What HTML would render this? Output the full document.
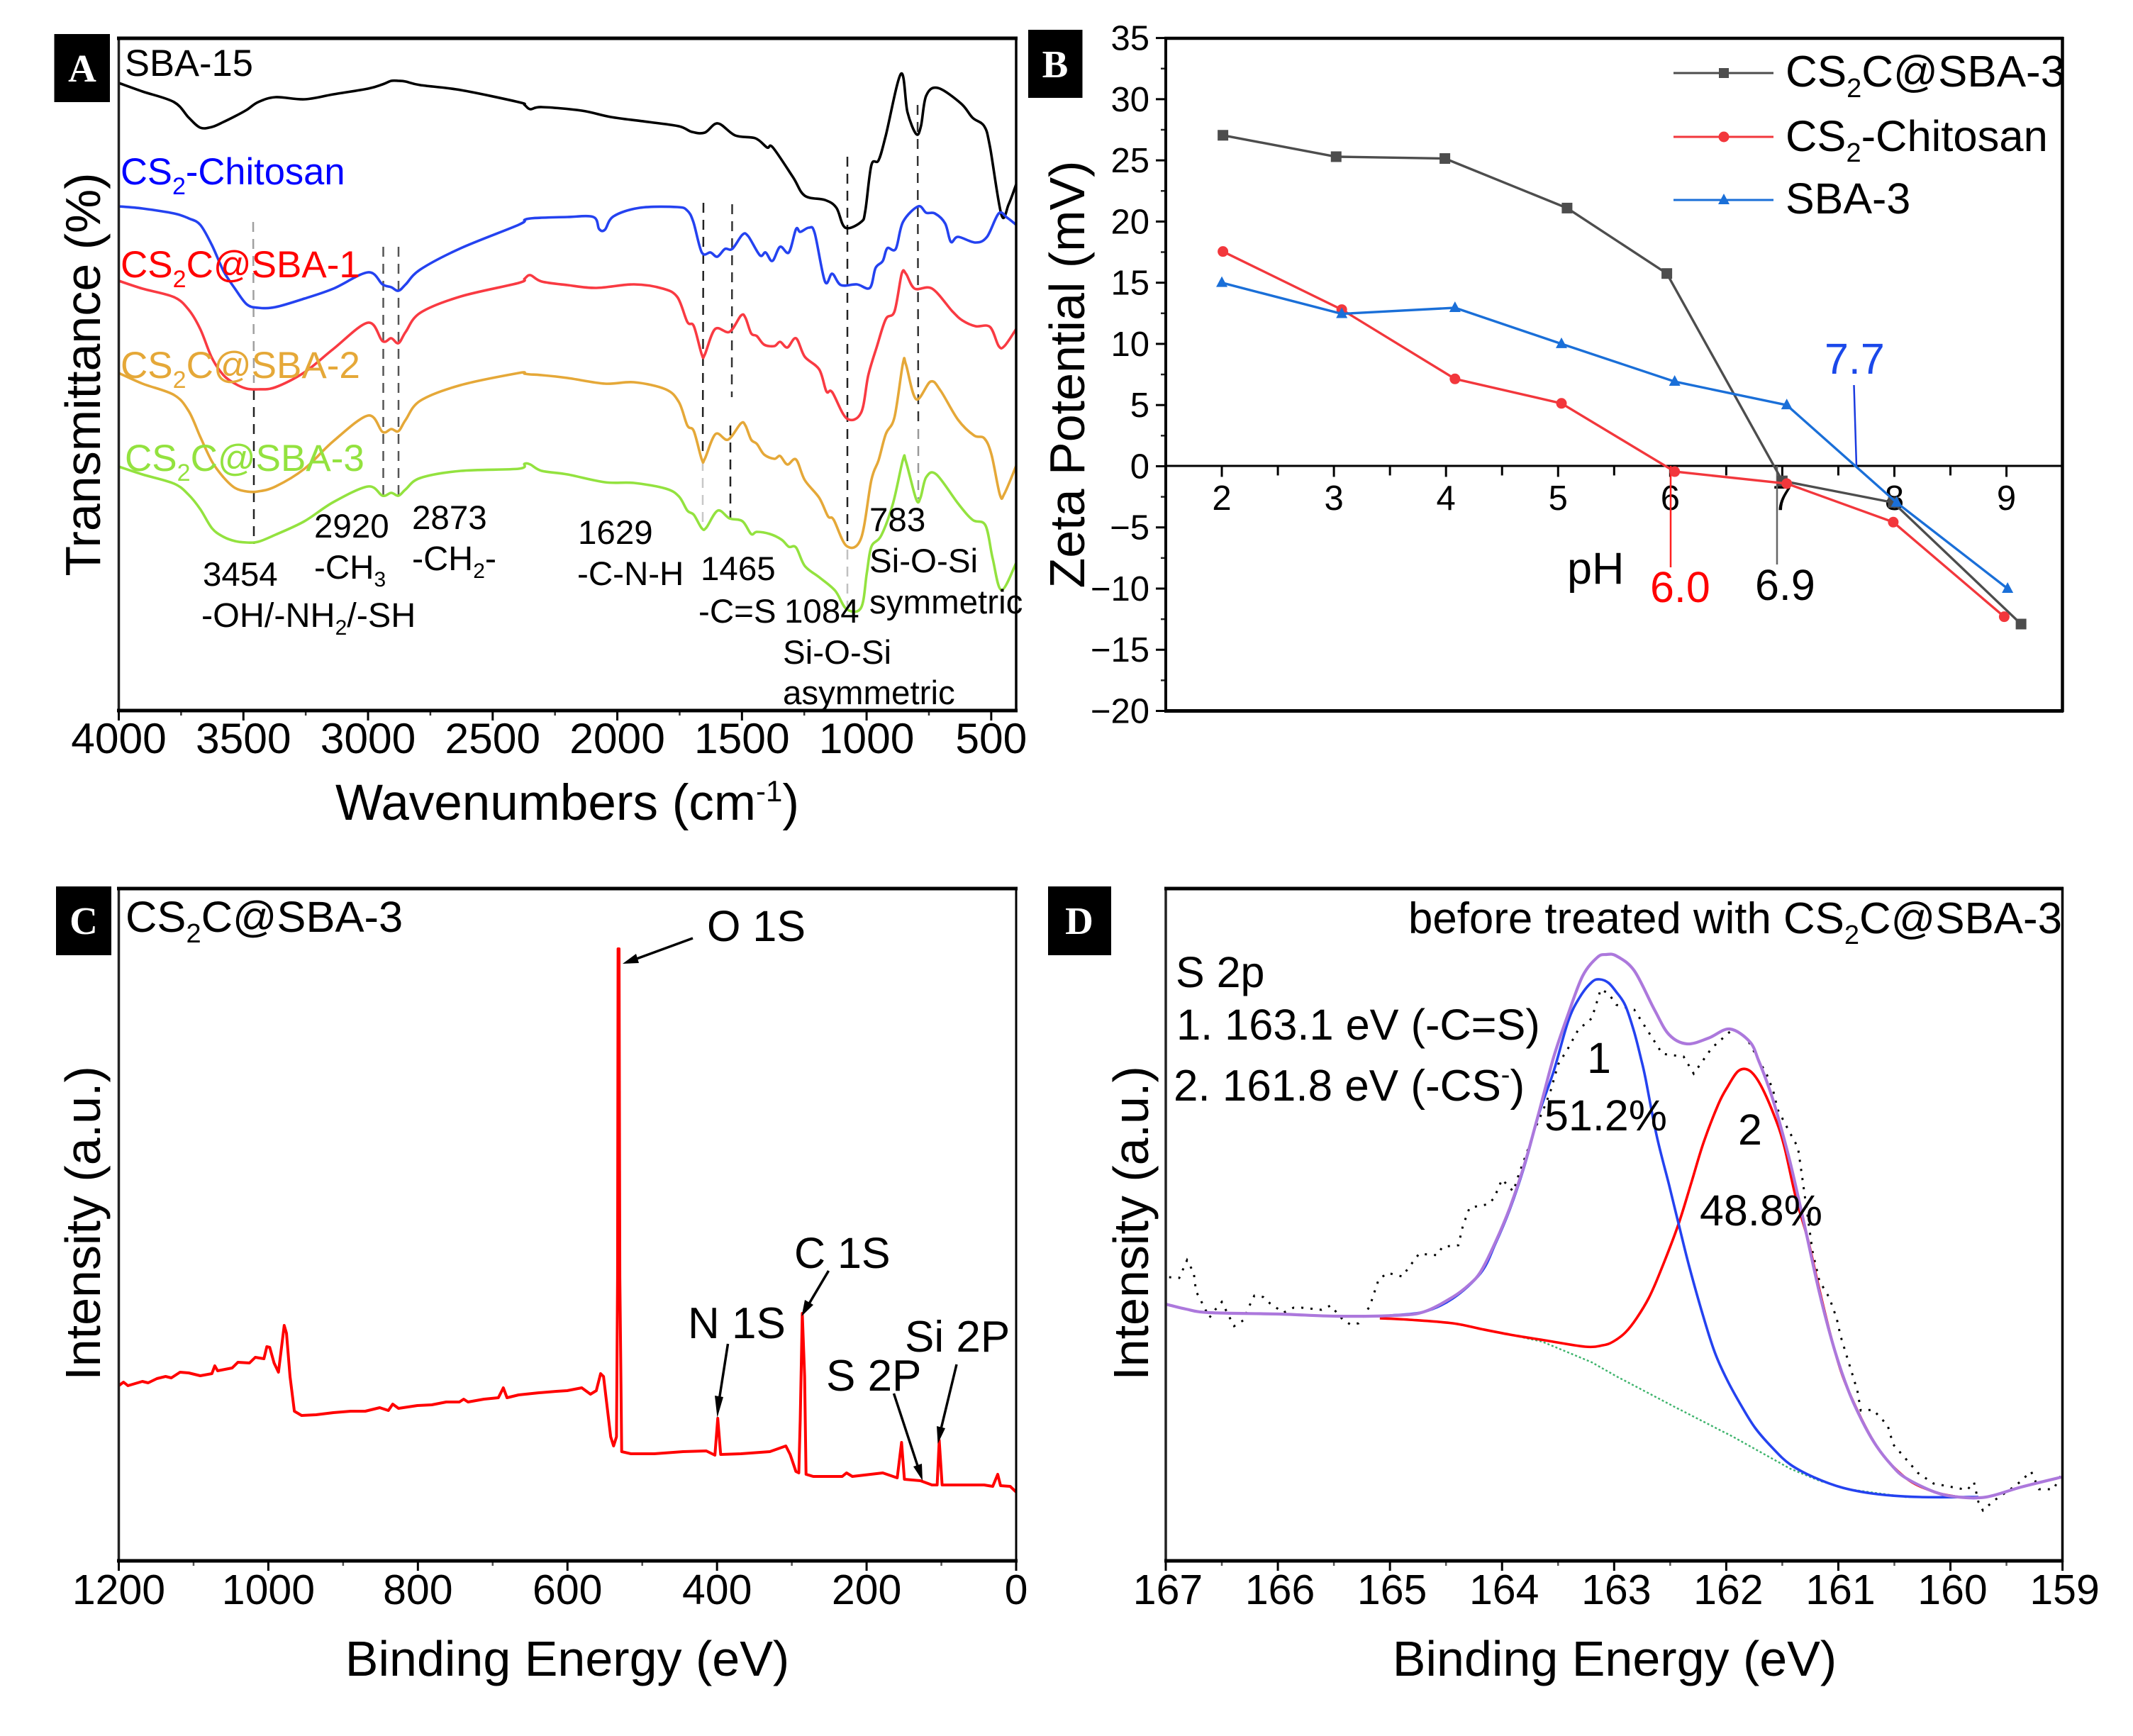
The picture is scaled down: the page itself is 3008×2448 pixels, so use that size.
<!DOCTYPE html>
<html>
<head>
<meta charset="utf-8">
<title>Characterisation panels</title>
<style>
html,body{margin:0;padding:0;background:#fff;}
svg{display:block;font-family:"Liberation Sans",Arial,sans-serif;}
text{fill:#000;}
.letter{font-family:"Liberation Serif",serif;font-weight:bold;font-size:55px;fill:#fff;text-anchor:middle;}
.ann{font-size:47.5px;}
.lab{font-size:53px;}
.big{font-size:61px;}
.axt{font-size:70px;text-anchor:middle;}
</style>
</head>
<body>
<svg id="chart" xmlns="http://www.w3.org/2000/svg" width="3008" height="2448" viewBox="0 0 3008 2448">
<rect x="0" y="0" width="3008" height="2448" fill="#fff"/>

<g id="pa">
  <g fill="none" stroke-width="2.5" stroke-dasharray="14 10">
    <line x1="357" y1="313" x2="358" y2="540" stroke="#a0a0a0"/>
    <line x1="358" y1="550" x2="358" y2="767" stroke="#222"/>
    <line x1="540.5" y1="348" x2="540.5" y2="700" stroke="#555"/>
    <line x1="562" y1="348" x2="562" y2="700" stroke="#555"/>
    <line x1="992" y1="286" x2="991" y2="640" stroke="#222"/>
    <line x1="991" y1="650" x2="991" y2="745" stroke="#c8c8c8"/>
    <line x1="1032.5" y1="288" x2="1032" y2="560" stroke="#333"/>
    <line x1="1030" y1="600" x2="1030" y2="732" stroke="#222"/>
    <line x1="1195" y1="221" x2="1195" y2="770" stroke="#222"/>
    <line x1="1195" y1="775" x2="1195" y2="859" stroke="#c0c0c0"/>
    <line x1="1294" y1="148" x2="1295" y2="600" stroke="#333"/>
    <line x1="1295" y1="605" x2="1295" y2="704" stroke="#999"/>
  </g>
  <g id="pa-series"></g>
  <g id="pa-ticks"></g>
  <line x1="167.5" y1="52" x2="167.5" y2="1004" stroke="#222" stroke-width="3.5"/>
  <line x1="165" y1="54" x2="1435" y2="54" stroke="#000" stroke-width="5"/>
  <line x1="1433" y1="52" x2="1433" y2="1004" stroke="#000" stroke-width="3.5"/>
  <line x1="165" y1="1002" x2="1435" y2="1002" stroke="#000" stroke-width="5"/>

  <text x="176" y="107" font-size="52.5">SBA-15</text>
  <text x="170" y="260" class="lab" style="fill:#0000ff;font-size:52.5px">CS<tspan font-size="34" dy="14" style="fill:#0000ff">2</tspan><tspan dy="-14" style="fill:#0000ff">-Chitosan</tspan></text>
  <text x="170" y="391" class="lab" style="fill:#ff0000">CS<tspan font-size="34" dy="14" style="fill:#ff0000">2</tspan><tspan dy="-14" style="fill:#ff0000">C@SBA-1</tspan></text>
  <text x="170" y="533" class="lab" style="fill:#e5a838">CS<tspan font-size="34" dy="14" style="fill:#e5a838">2</tspan><tspan dy="-14" style="fill:#e5a838">C@SBA-2</tspan></text>
  <text x="176" y="664" class="lab" style="fill:#93e23f">CS<tspan font-size="34" dy="14" style="fill:#93e23f">2</tspan><tspan dy="-14" style="fill:#93e23f">C@SBA-3</tspan></text>

  <text x="286" y="826" class="ann">3454</text>
  <text x="284" y="884" class="ann" style="font-size:48.5px">-OH/-NH<tspan font-size="30" dy="11">2</tspan><tspan dy="-11">/-SH</tspan></text>
  <text x="443" y="758" class="ann">2920</text>
  <text x="443" y="816" class="ann">-CH<tspan font-size="30" dy="11">3</tspan></text>
  <text x="581" y="746" class="ann">2873</text>
  <text x="581" y="804" class="ann" style="font-size:48.5px">-CH<tspan font-size="30" dy="11">2</tspan><tspan dy="-11">-</tspan></text>
  <text x="815" y="767" class="ann">1629</text>
  <text x="814" y="825" class="ann">-C-N-H</text>
  <text x="988" y="818" class="ann">1465</text>
  <text x="985" y="878" class="ann">-C=S</text>
  <text x="1106" y="878" class="ann">1084</text>
  <text x="1104" y="936" class="ann">Si-O-Si</text>
  <text x="1104" y="993" class="ann">asymmetric</text>
  <text x="1226" y="749" class="ann">783</text>
  <text x="1226" y="807" class="ann">Si-O-Si</text>
  <text x="1226" y="865" class="ann">symmetric</text>

  <text transform="rotate(-90 141 528)" x="141" y="528" class="axt" style="font-size:70px">Transmittance (%)</text>
  <text x="800" y="1156" class="axt" style="font-size:71px">Wavenumbers (cm<tspan font-size="42" dy="-26">-1</tspan><tspan dy="26">)</tspan></text>
  <rect x="76.5" y="48" width="78.5" height="96" fill="#000"/>
  <text x="116" y="115" class="letter">A</text>
</g>

<g id="pb">
  <g id="pb-axes"></g>
  <line x1="1644" y1="52" x2="1644" y2="1004" stroke="#000" stroke-width="4"/>
  <line x1="1642" y1="54" x2="2910" y2="54" stroke="#000" stroke-width="4.5"/>
  <line x1="2908.5" y1="52" x2="2908.5" y2="1004" stroke="#000" stroke-width="4.5"/>
  <line x1="1642" y1="1002.5" x2="2910" y2="1002.5" stroke="#000" stroke-width="5"/>
  <line x1="1644" y1="657" x2="2908" y2="657" stroke="#000" stroke-width="3"/>
  <line x1="2356" y1="657" x2="2356" y2="800" stroke="#ff2020" stroke-width="2.5"/>
  <line x1="2506" y1="657" x2="2506" y2="796" stroke="#666" stroke-width="2.5"/>
  <line x1="2614.5" y1="543" x2="2618" y2="657" stroke="#1a3be0" stroke-width="2.5"/>
  <g id="pb-series"></g>

  <text x="2573" y="527" class="big" style="fill:#1a48ea">7.7</text>
  <text x="2327" y="849" class="big" style="fill:#ff0000">6.0</text>
  <text x="2475" y="846" class="big">6.9</text>
  <text x="2210" y="823" font-size="63">pH</text>
  <text transform="rotate(-90 1529 528)" x="1529" y="528" class="axt">Zeta Potential (mV)</text>

  <g>
    <line x1="2360" y1="103" x2="2501" y2="103" stroke="#4d4d4d" stroke-width="3"/>
    <rect x="2424" y="96" width="14" height="14" fill="#4d4d4d"/>
    <text x="2518" y="122" class="big" style="font-size:62px">CS<tspan font-size="38" dy="15">2</tspan><tspan dy="-15">C@SBA-3</tspan></text>
    <line x1="2360" y1="193" x2="2501" y2="193" stroke="#f2373c" stroke-width="3"/>
    <circle cx="2431" cy="193" r="7.5" fill="#f2373c"/>
    <text x="2518" y="213" class="big" style="font-size:61.5px">CS<tspan font-size="38" dy="15">2</tspan><tspan dy="-15">-Chitosan</tspan></text>
    <line x1="2360" y1="282" x2="2501" y2="282" stroke="#1a6fd8" stroke-width="3"/>
    <polygon points="2431,273 2439,288 2423,288" fill="#1a6fd8"/>
    <text x="2518" y="301" class="big">SBA-3</text>
  </g>
  <rect x="1450" y="42" width="76.5" height="96" fill="#000"/>
  <text x="1488" y="109" class="letter">B</text>
</g>

<g id="pc">
  <g id="pc-series"></g>
  <g id="pc-ticks"></g>
  <line x1="167.5" y1="1251" x2="167.5" y2="2203" stroke="#222" stroke-width="3.5"/>
  <line x1="165" y1="1253" x2="1435" y2="1253" stroke="#000" stroke-width="5"/>
  <line x1="1433" y1="1251" x2="1433" y2="2203" stroke="#000" stroke-width="3"/>
  <line x1="165" y1="2201" x2="1435" y2="2201" stroke="#000" stroke-width="5"/>

  <g stroke="#000" stroke-width="3.5" fill="#000">
    <line x1="977" y1="1323" x2="895" y2="1353"/>
    <polygon points="878,1359 897,1345 901,1358" stroke="none"/>
    <line x1="1168.5" y1="1792" x2="1140" y2="1840"/>
    <polygon points="1130.5,1856 1135,1833 1147,1840" stroke="none"/>
    <line x1="1026.5" y1="1895" x2="1014" y2="1975"/>
    <polygon points="1011.5,1999 1008,1968 1020,1970" stroke="none"/>
    <line x1="1260.5" y1="1965" x2="1295" y2="2070"/>
    <polygon points="1301,2088 1288,2068 1300,2064" stroke="none"/>
    <line x1="1349" y1="1924" x2="1327" y2="2015"/>
    <polygon points="1322.5,2036 1321,2011 1333,2014" stroke="none"/>
  </g>
  <text x="177" y="1314" class="big" style="font-size:61.5px">CS<tspan font-size="38" dy="15">2</tspan><tspan dy="-15">C@SBA-3</tspan></text>
  <text x="997" y="1327" class="big">O 1S</text>
  <text x="1120" y="1788" class="big">C 1S</text>
  <text x="970" y="1887" class="big" style="font-size:62px">N 1S</text>
  <text x="1165" y="1961" class="big" style="font-size:62px">S 2P</text>
  <text x="1276" y="1906" class="big" style="font-size:62px">Si 2P</text>
  <text transform="rotate(-90 141 1725)" x="141" y="1725" class="axt">Intensity (a.u.)</text>
  <text x="800" y="2363" class="axt">Binding Energy (eV)</text>
  <rect x="79" y="1250" width="78" height="97" fill="#000"/>
  <text x="118" y="1317" class="letter">C</text>
</g>

<g id="pd">
  <g id="pd-series"></g>
  <g id="pd-ticks"></g>
  <line x1="1644" y1="1251" x2="1644" y2="2203" stroke="#222" stroke-width="3.5"/>
  <line x1="1642" y1="1253" x2="2910" y2="1253" stroke="#000" stroke-width="5"/>
  <line x1="2908.5" y1="1251" x2="2908.5" y2="2203" stroke="#000" stroke-width="3.5"/>
  <line x1="1642" y1="2201" x2="2910" y2="2201" stroke="#000" stroke-width="5"/>

  <text x="1986" y="1316" class="big" style="font-size:61.8px">before treated with CS<tspan font-size="38" dy="15">2</tspan><tspan dy="-15">C@SBA-3</tspan></text>
  <text x="1658" y="1392" class="big">S 2p</text>
  <text x="1659" y="1466" class="big" style="font-size:61.3px">1. 163.1 eV (-C=S)</text>
  <text x="1655" y="1552" class="big" style="font-size:62px">2. 161.8 eV (-CS<tspan font-size="38" dy="-24">-</tspan><tspan dy="24">)</tspan></text>
  <text x="2238" y="1513" class="big">1</text>
  <text x="2178" y="1594" class="big">51.2%</text>
  <text x="2451" y="1614" class="big">2</text>
  <text x="2397" y="1728" class="big">48.8%</text>
  <text transform="rotate(-90 1619 1725)" x="1619" y="1725" class="axt">Intensity (a.u.)</text>
  <text x="2277" y="2363" class="axt">Binding Energy (eV)</text>
  <rect x="1478" y="1250" width="89" height="97" fill="#000"/>
  <text x="1522" y="1317" class="letter">D</text>
</g>
</svg>

<script>
// ---------- Panel A: FTIR ----------
const ftirLeftWn = [4000,3905,3778,3719,3673,3626,3580,3534,3487,3441,3371,3255,3139,3000,2942,2907,2878,2849,2790,2628,2396,2372,2349,2303];
const ftirBlackWn = [2143,2026,1875,1753,1701,1649,1597,1527,1446,1399,1376,1295,1248,1167,1121,1086,1022,1005,981,952,923,862,836,801,782,761,714,621,575,528,505,459,430,400];
const ftirBlackT = [885,873,858,836,822,823,830,838,847,858,865,862,869,877,883,888,888,887,882,875,858,854,848,851,
  846,837,830,824,816,815,828,811,807,794,794,752,726,720,709,681,689,705,769,776,811,898,844,813,824,867,878,856,836,824,795,699,714,742];
const ftirBlueWn = [2200,2096,2073,2050,2015,1910,1759,1719,1695,1661,1626,1599,1568,1539,1498,1475,1428,1405,1378,1347,1312,1283,1266,1231,1208,1167,1138,1103,1039,987,964,935,917,883,854,793,761,726,685,662,633,563,517,470,436,400];
const ftirBlueT = [711,708,701,694,685,656,620,595,573,568,569,581,595,618,601,597,592,601,622,652,685,692,694,695,
  696,696,679,678,697,709,710,705,689,646,646,640,651,651,671,669,642,646,634,654,646,679,675,681,673,605,616,600,601,596,624,634,652,651,689,711,702,701,687,661,668,660,668,701,695,685];
const ftirRedWn = [2200,2084,1933,1817,1759,1719,1693,1661,1649,1608,1550,1504,1486,1463,1440,1411,1370,1347,1318,1283,1248,1190,1161,1138,1080,1022,993,958,923,888,859,842,807,737,656,615,563,505,470,447,400];
const ftirRedT = [606,595,583,565,538,497,473,461,454,453,456,477,510,547,521,525,518,534,561,584,603,609,614,605,
  600,596,601,595,583,548,542,502,502,538,534,557,554,532,528,516,514,520,512,525,499,481,450,449,412,420,473,514,552,563,616,616,595,595,563,550,542,541,514,514,538];
const ftirOrangeWn = [2200,2050,1933,1806,1753,1719,1693,1661,1649,1606,1556,1504,1486,1463,1440,1411,1370,1347,1318,1283,1248,1190,1155,1132,1080,1022,981,952,923,888,854,842,801,743,703,633,569,528,499,465,447,400];
const ftirOrangeT = [476,461,445,422,386,351,329,314,309,309,316,341,380,416,393,397,394,410,437,459,476,475,474,473,
  469,461,463,453,435,402,394,354,355,390,382,405,402,382,376,361,355,359,347,354,325,300,274,269,232,243,325,353,390,414,490,488,439,464,451,410,388,384,361,304,306,345];
const ftirGreenWn = [2200,2050,1933,1806,1753,1719,1693,1661,1643,1597,1550,1498,1463,1440,1388,1341,1312,1283,1248,1190,1126,1080,1022,999,981,941,894,854,842,801,784,761,720,633,575,523,494,459,400];
const ftirGreenT = [344,333,320,304,284,257,245,239,237,238,248,267,294,316,303,307,303,312,328,338,341,348,347,338,
  333,322,321,313,302,282,276,257,258,282,271,267,249,252,249,241,231,230,204,188,169,143,145,194,231,247,292,354,351,298,300,329,333,292,269,261,214,170,208];
const ftirTickValues = [4000,3500,3000,2500,2000,1500,1000,500];
const ftirTickLabels = ['4000','3500','3000','2500','2000','1500','1000','500'];
const ftirMinorTicks = [3750,3250,2750,2250,1750,1250,750];

// ---------- Panel B: zeta potential ----------
const zetaSba3cX = [2.01,3.02,3.99,5.08,5.97,7.0,7.99,9.13];
const zetaSba3cY = [27.05,25.3,25.15,21.1,15.75,-1.2,-2.97,-12.9];
const zetaChitosanX = [2.01,3.07,4.08,5.03,6.04,7.04,7.99,8.98];
const zetaChitosanY = [17.55,12.8,7.14,5.14,-0.44,-1.42,-4.57,-12.3];
const zetaSba3X = [2.0,3.07,4.08,5.03,6.04,7.04,8.02,9.01];
const zetaSba3Y = [15,12.46,12.95,10,6.92,5,-2.97,-10];
const phTicks = [2,3,4,5,6,7,8,9];
const phMinorTicks = [2.5,3.5,4.5,5.5,6.5,7.5,8.5];
const zetaTicks = [35,30,25,20,15,10,5,0,-5,-10,-15,-20];
const zetaTickLabels = ['35','30','25','20','15','10','5','0','\u22125','\u221210','\u221215','\u221220'];
const zetaMinorTicks = [32.5,27.5,22.5,17.5,12.5,7.5,2.5,-2.5,-7.5,-12.5,-17.5];

// ---------- Panel C: XPS survey ----------
const surveyE = [1200,1193.6,1187.8,1168.4,1160.7,1149,1137.4,1129.7,1118.1,1106.5,1091,1075.5,1071.6,1067.8,1048.4,1040.7,1025.2,1017.5,1005.9,1002,998.1,992.3,986.5,978.8,975.7,971,965.2,955.5,936.2,913,889.8,870.4,851,839.5,833.7,825.9,800.7,781.4,762.1,744.6,738.8,733,711.7,692.4,685.8,680.8,665.3,638.2,615,600.3,
  580.9,569.2,561.5,555.7,551.8,542.2,538.3,534.4,533,532.3,531,530,528.5,527.5,515,484,445.4,414.4,402.8,399,395.1,368,329.3,308,302.2,294.5,290.6,288.7,286,282.9,281,271.3,232.6,226.8,219,178.4,159,153.2,149.4,128,112.6,105.6,102.9,99,42.9,31.3,24.7,20.9,8,0];
const surveyI = [247,252,247,253,251,257,260,258,266,265,261,264,275,268,272,280,279,287,285,302,301,279,266,332,321,260,211,205,206,209,211,211,216,212,221,215,219,220,224,224,228,224,228,230,244,230,234,237,239,240,
  244,235,240,264,260,175,162,175,400,863,863,400,250,154,151,151,154,155,149,201,150,151,154,162,150,126,124,199,349,260,122,119,119,124,119,124,117,167,115,113,107,107,170,107,107,105,122,106,105,97];
const surveyTickValues = [1200,1000,800,600,400,200,0];
const surveyTickLabels = ['1200','1000','800','600','400','200','0'];
const surveyMinorTicks = [1100,900,700,500,300,100];

// ---------- Panel D: S 2p ----------
const rawE = [166.97,166.88,166.81,166.75,166.73,166.69,166.61,166.56,166.50,166.43,166.39,166.31,166.25,166.21,166.13,166.07,165.95,165.86,165.79,165.61,165.53,165.42,165.35,165.28,165.18,165.13,165.10,165.02,164.89,164.84,164.74,164.58,164.53,164.39,164.35,164.29,164.12,164.07,164.0,163.90,163.85,163.76,163.71,163.64,163.57,163.50,163.41,163.32,163.20,163.15,163.12,163.05,162.98,162.82,162.57,162.38,162.29,162.13,161.94,161.82,161.63,161.58,161.54,161.43,161.36,161.32,161.23,161.17,161.08,161.015,160.98,160.91,160.83,160.80,160.69,160.56,160.51,160.41,160.29,160.15,159.85,159.79,159.75,159.71,159.62,159.41,159.28,159.21,159.08,159.01];
const rawI = [400,399,424,406,380,368,343,354,365,343,331,339,361,374,372,363,350,357,357,354,360,340,333,335,359,383,397,406,401,412,433,431,443,445,472,498,503,512,538,521,545,584,608,633,661,700,723,749,765,790,806,800,784,777,715,711,687,723,750,738,683,662,636,603,583,538,436,395,371,342,317,281,240,212,213,191,164,146,124,109,100,111,83,71,84,107,126,101,101,122];
const envelopeE = [167,166.82,166.61,165.99,165.48,164.96,164.70,164.44,164.29,164.19,164.06,163.93,163.80,163.67,163.54,163.41,163.28,163.15,163.07,162.98,162.82,162.64,162.51,162.35,162.16,161.97,161.79,161.71,161.63,161.56,161.43,161.30,161.17,161.04,160.91,160.78,160.66,160.52,160.40,160.14,159.93,159.68,159.37,159.01];
const envelopeI = [362,355,350,348,345,346,351,372,390,408,449,498,559,633,710,771,825,851,855,853,832,777,742,729,737,750,732,705,672,638,562,472,379,301,240,195,162,134,117,97,90,90,104,118];
const peak1E = [165.0,164.70,164.44,164.19,164.06,163.93,163.80,163.67,163.54,163.41,163.31,163.20,163.13,163.05,162.98,162.90,162.82,162.76,162.72,162.62,162.51,162.42,162.33,162.20,162.10,161.995,161.87,161.74,161.58,161.43,161.22,160.96,160.65,160.27,159.75];
const peak1I = [346,351,370,406,447,496,557,631,690,761,794,816,820,815,802,783,745,708,680,599,530,472,415,342,293,256,220,187,158,136,118,103,94,90,90];
const peak2E = [165.09,164.83,164.44,164.19,163.93,163.62,163.26,163.1,163.01,162.90,162.80,162.69,162.59,162.43,162.31,162.20,162.07,161.99,161.89,161.79,161.69,161.56,161.48,161.38,161.27,161.17,161.04,160.91,160.66,160.40,160.14,159.93];
const peak2I = [342,340,335,327,319,311,302,304,309,322,342,371,407,473,534,591,644,668,691,691,670,623,583,513,452,383,301,240,162,117,97,90];
const baselineE = [165.09,164.83,164.44,164.19,163.93,163.64,163.2,162.977,162.70,162.46,161.94,161.43,161.17,160.91,160.40,159.75];
const baselineI = [342,340,335,327,319,309,280,260,237,217,175,130,113,101,90,89];
const s2pTicks = [167,166,165,164,163,162,161,160,159];
const s2pMinorTicks = [166.5,165.5,164.5,163.5,162.5,161.5,160.5,159.5];

// ---------- helpers ----------
const SVG_NS = 'http://www.w3.org/2000/svg';
function add(tag, attrs, parent, text) {
  const node = document.createElementNS(SVG_NS, tag);
  for (const k in attrs) node.setAttribute(k, attrs[k]);
  if (text !== undefined) node.textContent = text;
  parent.appendChild(node);
  return node;
}
function scale(d0, d1, r0, r1) {
  return function (v) { return r0 + (v - d0) / (d1 - d0) * (r1 - r0); };
}
function polyPoints(xs, ys, fx, fy) {
  return xs.map(function (v, i) { return fx(v).toFixed(1) + ',' + fy(ys[i]).toFixed(1); }).join(' ');
}
function smoothPath(xs, ys, fx, fy) {
  const p = xs.map(function (v, i) { return [fx(v), fy(ys[i])]; });
  let d = 'M' + p[0][0].toFixed(1) + ' ' + p[0][1].toFixed(1);
  for (let i = 0; i < p.length - 1; i++) {
    const a = p[Math.max(i - 1, 0)], b = p[i], c = p[i + 1], e = p[Math.min(i + 2, p.length - 1)];
    d += 'C' + (b[0] + (c[0] - a[0]) / 6).toFixed(1) + ' ' + (b[1] + (c[1] - a[1]) / 6).toFixed(1) + ' ' +
      (c[0] - (e[0] - b[0]) / 6).toFixed(1) + ' ' + (c[1] - (e[1] - b[1]) / 6).toFixed(1) + ' ' +
      c[0].toFixed(1) + ' ' + c[1].toFixed(1);
  }
  return d;
}

// ---------- Panel A drawing ----------
const xA = scale(4000, 400, 167.5, 1433);
const yA = scale(0, 948, 1002, 54);
const seriesA = document.getElementById('pa-series');
const ticksA = document.getElementById('pa-ticks');

const lineBlack = add('path', {d: smoothPath(ftirLeftWn.concat(ftirBlackWn), ftirBlackT, xA, yA), fill: 'none', stroke: '#000', 'stroke-width': 3.6, 'stroke-linejoin': 'round'}, seriesA);


const lineBlue = add('path', {d: smoothPath(ftirLeftWn.concat(ftirBlueWn), ftirBlueT, xA, yA), fill: 'none', stroke: '#2442f0', 'stroke-width': 3.6, 'stroke-linejoin': 'round'}, seriesA);


const lineRed = add('path', {d: smoothPath(ftirLeftWn.concat(ftirRedWn), ftirRedT, xA, yA), fill: 'none', stroke: '#f93a42', 'stroke-width': 3.6, 'stroke-linejoin': 'round'}, seriesA);


const lineOrange = add('path', {d: smoothPath(ftirLeftWn.concat(ftirOrangeWn), ftirOrangeT, xA, yA), fill: 'none', stroke: '#e5a838', 'stroke-width': 3.6, 'stroke-linejoin': 'round'}, seriesA);


const lineGreen = add('path', {d: smoothPath(ftirLeftWn.concat(ftirGreenWn), ftirGreenT, xA, yA), fill: 'none', stroke: '#93e23f', 'stroke-width': 3.6, 'stroke-linejoin': 'round'}, seriesA);



ftirTickValues.forEach(function (v, i) {
  const tick = add('line', {x1: xA(v), x2: xA(v), y1: 1002, y2: 1016, stroke: '#000', 'stroke-width': 3}, ticksA);
  
  
  const label = add('text', {x: xA(v), y: 1062, 'text-anchor': 'middle', 'font-size': 60.5}, ticksA, ftirTickLabels[i]);
  
  
});
ftirMinorTicks.forEach(function (v) {
  const tick = add('line', {x1: xA(v), x2: xA(v), y1: 1002, y2: 1009, stroke: '#333', 'stroke-width': 2.5}, ticksA);
  
  
});

// ---------- Panel B drawing ----------
const xB = scale(1.5, 9.5, 1644, 2908.6);
const yB = scale(35, -20, 53.6, 1002.5);
const axesB = document.getElementById('pb-axes');
const seriesB = document.getElementById('pb-series');

phTicks.forEach(function (v) {
  const tick = add('line', {x1: xB(v), x2: xB(v), y1: yB(0), y2: yB(0) + 15, stroke: '#000', 'stroke-width': 3}, axesB);
  
  
  const label = add('text', {x: xB(v), y: 719, 'text-anchor': 'middle', 'font-size': 49}, axesB, String(v));
  
  
});
phMinorTicks.forEach(function (v) {
  const tick = add('line', {x1: xB(v), x2: xB(v), y1: yB(0), y2: yB(0) + 13, stroke: '#000', 'stroke-width': 3}, axesB);
  
  
});
zetaTicks.forEach(function (v, i) {
  const tick = add('line', {x1: 1630, x2: 1644, y1: yB(v), y2: yB(v), stroke: '#000', 'stroke-width': 3}, axesB);
  
  
  const label = add('text', {x: 1621, y: yB(v) + 17, 'text-anchor': 'end', 'font-size': 49}, axesB, zetaTickLabels[i]);
  
  
});
zetaMinorTicks.forEach(function (v) {
  const tick = add('line', {x1: 1637, x2: 1644, y1: yB(v), y2: yB(v), stroke: '#222', 'stroke-width': 2.5}, axesB);
  
  
});

const zetaLine1 = add('polyline', {points: polyPoints(zetaSba3cX, zetaSba3cY, xB, yB), fill: 'none', stroke: '#4d4d4d', 'stroke-width': 3.4}, seriesB);


zetaSba3cX.forEach(function (v, i) {
  const m = add('rect', {x: xB(v) - 7.5, y: yB(zetaSba3cY[i]) - 7.5, width: 15, height: 15, fill: '#4d4d4d'}, seriesB);
  
  
});
const zetaLine2 = add('polyline', {points: polyPoints(zetaChitosanX, zetaChitosanY, xB, yB), fill: 'none', stroke: '#f2373c', 'stroke-width': 3.4}, seriesB);


zetaChitosanX.forEach(function (v, i) {
  const m = add('circle', {cx: xB(v), cy: yB(zetaChitosanY[i]), r: 7.5, fill: '#f2373c'}, seriesB);
  
  
});
const zetaLine3 = add('polyline', {points: polyPoints(zetaSba3X, zetaSba3Y, xB, yB), fill: 'none', stroke: '#1a6fd8', 'stroke-width': 3.4}, seriesB);


zetaSba3X.forEach(function (v, i) {
  const cx = xB(v), cy = yB(zetaSba3Y[i]);
  const m = add('polygon', {points: cx + ',' + (cy - 9) + ' ' + (cx + 8) + ',' + (cy + 6) + ' ' + (cx - 8) + ',' + (cy + 6), fill: '#1a6fd8'}, seriesB);
  
  
});

// ---------- Panel C drawing ----------
const xC = scale(1200, 0, 167.5, 1433);
const yC = scale(0, 948, 2201, 1253);
const seriesC = document.getElementById('pc-series');
const ticksC = document.getElementById('pc-ticks');
const surveyLine = add('polyline', {points: polyPoints(surveyE, surveyI, xC, yC), fill: 'none', stroke: '#ff0000', 'stroke-width': 4, 'stroke-linejoin': 'round'}, seriesC);


surveyTickValues.forEach(function (v, i) {
  const tick = add('line', {x1: xC(v), x2: xC(v), y1: 2201, y2: 2215, stroke: '#000', 'stroke-width': 3}, ticksC);
  
  
  const label = add('text', {x: xC(v), y: 2262, 'text-anchor': 'middle', 'font-size': 59}, ticksC, surveyTickLabels[i]);
  
  
});
surveyMinorTicks.forEach(function (v) {
  const tick = add('line', {x1: xC(v), x2: xC(v), y1: 2201, y2: 2208, stroke: '#555', 'stroke-width': 2.5}, ticksC);
  
  
});

// ---------- Panel D drawing ----------
const xD = scale(167, 159, 1644, 2908.6);
const yD = scale(0, 948, 2201, 1253);
const seriesD = document.getElementById('pd-series');
const ticksD = document.getElementById('pd-ticks');
const rawLine = add('polyline', {points: polyPoints(rawE, rawI, xD, yD), fill: 'none', stroke: '#000', 'stroke-width': 3, 'stroke-dasharray': '3 10'}, seriesD);


const baseLine = add('polyline', {points: polyPoints(baselineE, baselineI, xD, yD), fill: 'none', stroke: '#3cb36b', 'stroke-width': 2.4, 'stroke-dasharray': '3 3'}, seriesD);


const peak2Line = add('path', {d: smoothPath(peak2E, peak2I, xD, yD), fill: 'none', stroke: '#ff0000', 'stroke-width': 3.6}, seriesD);


const peak1Line = add('path', {d: smoothPath(peak1E, peak1I, xD, yD), fill: 'none', stroke: '#2442f0', 'stroke-width': 3.6}, seriesD);


const envelopeLine = add('path', {d: smoothPath(envelopeE, envelopeI, xD, yD), fill: 'none', stroke: '#ac78dc', 'stroke-width': 4.2}, seriesD);


s2pTicks.forEach(function (v) {
  const tick = add('line', {x1: xD(v), x2: xD(v), y1: 2201, y2: 2215, stroke: '#000', 'stroke-width': 3}, ticksD);
  
  
  const label = add('text', {x: xD(v) + 3, y: 2262, 'text-anchor': 'middle', 'font-size': 59}, ticksD, String(v));
  
  
});
s2pMinorTicks.forEach(function (v) {
  const tick = add('line', {x1: xD(v), x2: xD(v), y1: 2201, y2: 2208, stroke: '#555', 'stroke-width': 2.5}, ticksD);
  
  
});
</script>
</body>
</html>
